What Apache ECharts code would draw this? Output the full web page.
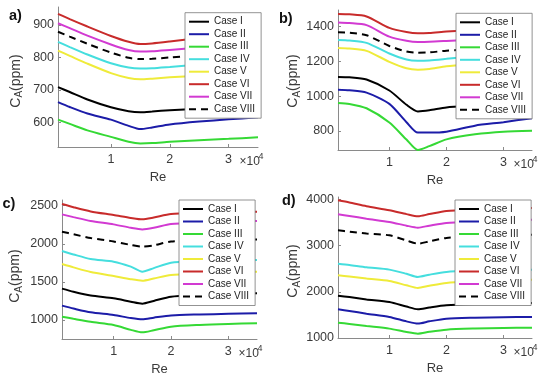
<!DOCTYPE html>
<html><head><meta charset="utf-8">
<script src="https://cdn.jsdelivr.net/npm/echarts@6/dist/echarts.min.js"></script>
<style>html,body{margin:0;padding:0;background:#fff}#c{width:550px;height:383px}</style>
</head><body><div id="c"></div>
<script>
// ---- data ----
const re = [1000, 3000, 6000, 10000, 13000, 15000, 17000, 20000, 25000, 30000, 35000];
const caseNames = ['Case I','Case II','Case III','Case IV','Case V','Case VI','Case VII','Case VIII'];
const xTicks = [10000, 20000, 30000];
const panelLabels = ['a)','b)','c)','d)'];
const aTicks = [600, 700, 800, 900];
const bTicks = [800, 1000, 1200, 1400];
const cTicks = [1000, 1500, 2000, 2500];
const dTicks = [1000, 2000, 3000, 4000];

// panel a
const aI    = [709, 694, 671, 647, 635, 632, 634, 638, 643, 649, 655];
const aII   = [663, 648, 628, 609, 590, 580, 585, 594, 603, 610, 616];
const aIII  = [609, 596, 576, 556, 541, 536, 537, 541, 546, 550, 555];
const aIV   = [848, 832, 809, 782, 769, 766, 767, 771, 778, 784, 790];
const aV    = [821, 805, 781, 752, 737, 733, 735, 739, 744, 750, 755];
const aVI   = [934, 918, 895, 866, 848, 841, 843, 849, 860, 871, 881];
const aVII  = [905, 890, 867, 840, 823, 818, 819, 823, 830, 838, 845];
const aVIII = [879, 864, 842, 815, 799, 795, 796, 800, 807, 814, 820];
// panel b
const bI    = [1110, 1108, 1095, 1032, 950, 912, 918, 935, 945, 955, 964];
const bII   = [1036, 1033, 1020, 955, 850, 790, 790, 795, 830, 850, 873];
const bIII  = [960, 955, 930, 848, 750, 690, 712, 751, 780, 795, 800];
const bIV   = [1323, 1320, 1306, 1245, 1210, 1203, 1205, 1214, 1230, 1246, 1261];
const bV    = [1276, 1273, 1260, 1197, 1160, 1152, 1156, 1172, 1182, 1190, 1199];
const bVI   = [1472, 1470, 1458, 1392, 1368, 1361, 1363, 1371, 1381, 1392, 1404];
const bVII  = [1423, 1420, 1408, 1342, 1318, 1311, 1312, 1317, 1326, 1336, 1346];
const bVIII = [1367, 1364, 1350, 1288, 1256, 1249, 1251, 1261, 1270, 1279, 1288];
// panel c
const cI    = [1411, 1370, 1320, 1284, 1240, 1214, 1250, 1306, 1325, 1340, 1350];
const cII   = [1188, 1150, 1100, 1065, 1025, 1008, 1030, 1060, 1072, 1080, 1087];
const cIII  = [1043, 1015, 975, 934, 870, 837, 865, 912, 935, 948, 956];
const cIV   = [1905, 1860, 1800, 1765, 1700, 1634, 1680, 1752, 1770, 1780, 1787];
const cV    = [1734, 1690, 1630, 1577, 1535, 1516, 1545, 1590, 1610, 1625, 1634];
const cVI   = [2522, 2480, 2425, 2378, 2340, 2321, 2345, 2390, 2405, 2414, 2421];
const cVII  = [2386, 2350, 2300, 2255, 2210, 2189, 2210, 2259, 2280, 2292, 2299];
const cVIII = [2159, 2125, 2075, 2030, 1985, 1962, 1980, 2030, 2045, 2053, 2058];
// panel d
const dI    = [1916, 1885, 1835, 1779, 1680, 1621, 1660, 1707, 1735, 1750, 1758];
const dII   = [1621, 1585, 1525, 1455, 1360, 1311, 1360, 1419, 1440, 1450, 1455];
const dIII  = [1332, 1305, 1260, 1203, 1130, 1094, 1135, 1181, 1205, 1218, 1224];
const dIV   = [2608, 2580, 2530, 2479, 2390, 2320, 2370, 2428, 2455, 2470, 2479];
const dV    = [2356, 2330, 2285, 2234, 2140, 2082, 2130, 2190, 2225, 2250, 2262];
const dVI   = [3978, 3930, 3850, 3762, 3680, 3632, 3680, 3748, 3780, 3800, 3813];
const dVII  = [3676, 3640, 3580, 3510, 3430, 3387, 3430, 3488, 3520, 3545, 3560];
const dVIII = [3329, 3300, 3260, 3221, 3110, 3041, 3090, 3164, 3200, 3225, 3236];

// ---- layout / style ----
const panels = [
  {data:[aI,aII,aIII,aIV,aV,aVI,aVII,aVIII], ticks:aTicks, range:[525,955],
   grid:{left:58,top:7,width:200,height:140}, legend:{left:185,top:12.7},
   label:[9,8], yname:[15.7,80.7]},
  {data:[bI,bII,bIII,bIV,bV,bVI,bVII,bVIII], ticks:bTicks, range:[690,1495],
   grid:{left:338,top:10,width:194,height:140}, legend:{left:456,top:13.3},
   label:[279,11.5], yname:[293.3,80.7]},
  {data:[cI,cII,cIII,cIV,cV,cVI,cVII,cVIII], ticks:cTicks, range:[750,2575],
   grid:{left:62,top:200,width:195,height:139}, legend:{left:179,top:200},
   label:[2.5,196.5], yname:[15,275.8]},
  {data:[dI,dII,dIII,dIV,dV,dVI,dVII,dVIII], ticks:dTicks, range:[1000,4050],
   grid:{left:338,top:197,width:194,height:141}, legend:{left:455,top:200},
   label:[282,193.5], yname:[293.3,270.7]}
];
const colors = ['#000000','#1c1ca8','#35d935','#45dede','#efeb3a','#c82b2b','#d23ad2','#000000'];
const FONT = 'Liberation Sans, Arial, sans-serif';
const axisGray = '#8a8a8a';
const labelGray = '#3a3a3a';

const grid = [], xAxis = [], yAxis = [], series = [], legend = [], graphic = [];
panels.forEach((p, pi) => {
  grid.push(Object.assign({containLabel:false}, p.grid));
  xAxis.push({type:'value', gridIndex:pi, min:1000, max:35000,
    axisLine:{show:true, onZero:false, lineStyle:{color:axisGray, width:1}},
    axisTick:{show:true, inside:true, length:3, customValues:xTicks, lineStyle:{color:axisGray}},
    axisLabel:{customValues:xTicks, formatter:v => String(v/10000), color:labelGray,
      fontSize:12.5, fontFamily:FONT, margin:6},
    splitLine:{show:false}});
  yAxis.push({type:'value', gridIndex:pi, min:p.range[0], max:p.range[1],
    axisLine:{show:true, onZero:false, lineStyle:{color:axisGray, width:1}},
    axisTick:{show:true, inside:true, length:3, customValues:p.ticks, lineStyle:{color:axisGray}},
    axisLabel:{customValues:p.ticks, formatter:v => String(v), color:labelGray,
      fontSize:12.5, fontFamily:FONT, margin:4},
    splitLine:{show:false}});
  p.data.forEach((vals, k) => {
    series.push({type:'line', name:caseNames[k], xAxisIndex:pi, yAxisIndex:pi,
      data: re.map((x, i) => [x, vals[i]]), showSymbol:false, symbol:'none',
      smooth:0.25, animation:false,
      lineStyle:{color:colors[k], width:2, type: k === 7 ? [7,5] : 'solid'},
      itemStyle:{color:colors[k]}});
  });
  legend.push({data:caseNames, orient:'vertical', left:p.legend.left, top:p.legend.top,
    itemWidth:20, itemHeight:10, itemGap:2.5, padding:[4,6,4,3],
    backgroundColor:'#fff', borderColor:'#777', borderWidth:0.8, borderRadius:0,
    selectedMode:false,
    itemStyle:{opacity:0, color:'rgba(0,0,0,0)', borderWidth:0},
    textStyle:{fontSize:10, fontFamily:FONT, color:'#222', lineHeight:10}});
  const g = p.grid;
  const right = g.left + g.width, bottom = g.top + g.height;
  graphic.push({type:'text', left:p.label[0], top:p.label[1],
    style:{text:panelLabels[pi], fontSize:14.5, fontWeight:'bold', fontFamily:FONT, fill:'#111'}});
  graphic.push({type:'text', x:g.left + g.width/2, y:bottom + 30,
    style:{text:'Re', fontSize:13, fontFamily:FONT, fill:labelGray, align:'center', verticalAlign:'middle'}});
  graphic.push({type:'text', x:right - 18.5, y:bottom + 14.5,
    style:{text:'×10', fontSize:12, fontFamily:FONT, fill:labelGray, align:'left', verticalAlign:'middle'}});
  graphic.push({type:'text', x:right + 0.5, y:bottom + 9.5,
    style:{text:'4', fontSize:9, fontFamily:FONT, fill:labelGray, align:'left', verticalAlign:'middle'}});
  graphic.push({type:'group', x:p.yname[0], y:p.yname[1], rotation:Math.PI/2,
    children:[
      {type:'text', x:-27, y:0, style:{text:'C', fontSize:14, fontFamily:FONT, fill:labelGray, align:'left', verticalAlign:'middle'}},
      {type:'text', x:-16.9, y:4, style:{text:'A', fontSize:10, fontFamily:FONT, fill:labelGray, align:'left', verticalAlign:'middle'}},
      {type:'text', x:-10.2, y:0, style:{text:'(ppm)', fontSize:14, fontFamily:FONT, fill:labelGray, align:'left', verticalAlign:'middle'}}
    ]});
});

const chart = echarts.init(document.getElementById('c'), null, {renderer:'canvas'});
chart.setOption({animation:false, backgroundColor:'#fff', grid, xAxis, yAxis, series, legend, graphic});
</script></body></html>
